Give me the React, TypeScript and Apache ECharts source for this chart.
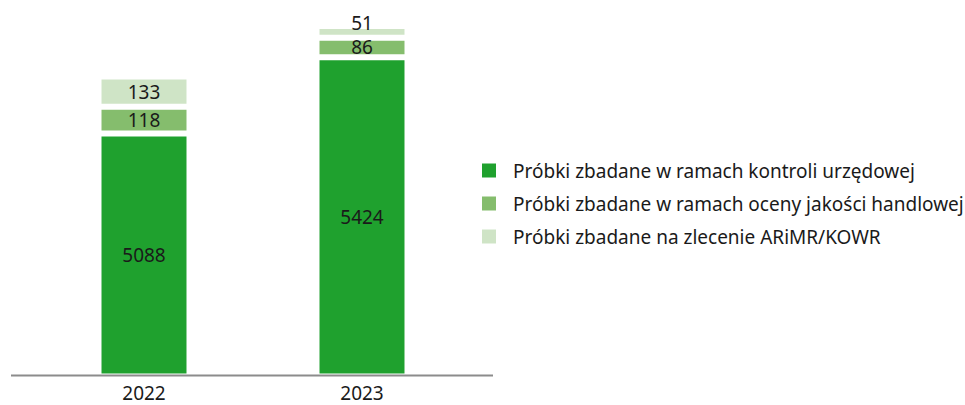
import React, { useEffect, useRef } from "react";
import * as echarts from "echarts";

const categories = ["2022", "2023"];
const seriesNames = [
  "Próbki zbadane w ramach kontroli urzędowej",
  "Próbki zbadane w ramach oceny jakości handlowej",
  "Próbki zbadane na zlecenie ARiMR/KOWR",
];
const official = [5088, 5424];
const quality = [118, 86];
const arimr = [133, 51];
const colors = ["#1fa12e", "#85bd6d", "#cfe4c6"];

const FONT = "Noto Sans";

export default function App() {
  const ref = useRef<HTMLDivElement>(null);
  useEffect(() => {
    document.body.style.margin = "0";
    if (!ref.current) return;
    const chart = echarts.init(ref.current, null, { renderer: "svg" });
    const values = [official, quality, arimr];
    const labelBase = {
      show: true,
      position: "inside",
      color: "#1a1a1a",
      fontSize: 19,
      fontFamily: FONT,
    };
    chart.setOption({
      animation: false,
      textStyle: { fontFamily: FONT },
      grid: { left: 35, right: 494, top: 19, bottom: 30 },
      legend: {
        orient: "vertical",
        left: 480,
        top: 161,
        padding: 0,
        itemWidth: 16,
        itemHeight: 16,
        itemGap: 14,
        icon: "rect",
        textStyle: { fontFamily: FONT, fontSize: 19, color: "#1a1a1a", padding: [0, 0, 0, 11] },
        data: seriesNames,
      },
      xAxis: {
        type: "category",
        data: categories,
        axisLine: { show: false },
        axisTick: { show: false },
        axisLabel: { color: "#1a1a1a", fontSize: 19, fontFamily: FONT, margin: 8 },
      },
      yAxis: {
        type: "value",
        min: 4025,
        max: 5592,
        show: false,
        splitLine: { show: false },
      },
      graphic: [
        {
          type: "line",
          shape: { x1: 11, y1: 375.5, x2: 493, y2: 375.5 },
          style: { stroke: "#8c8c8c", lineWidth: 2 },
          z: 10,
        },
      ],
      series: seriesNames.map((name, i) => ({
        name,
        type: "bar",
        stack: "total",
        barWidth: 91,
        data:
          i === 2
            ? values[i].map((v, j) => (j === 1 ? { value: v, label: { offset: [0, -9] } } : v))
            : values[i],
        itemStyle: { color: colors[i], borderColor: "#ffffff", borderWidth: 3 },
        label: labelBase,
      })),
    });
    return () => chart.dispose();
  }, []);
  return <div ref={ref} style={{ width: 965, height: 405 }} />;
}
